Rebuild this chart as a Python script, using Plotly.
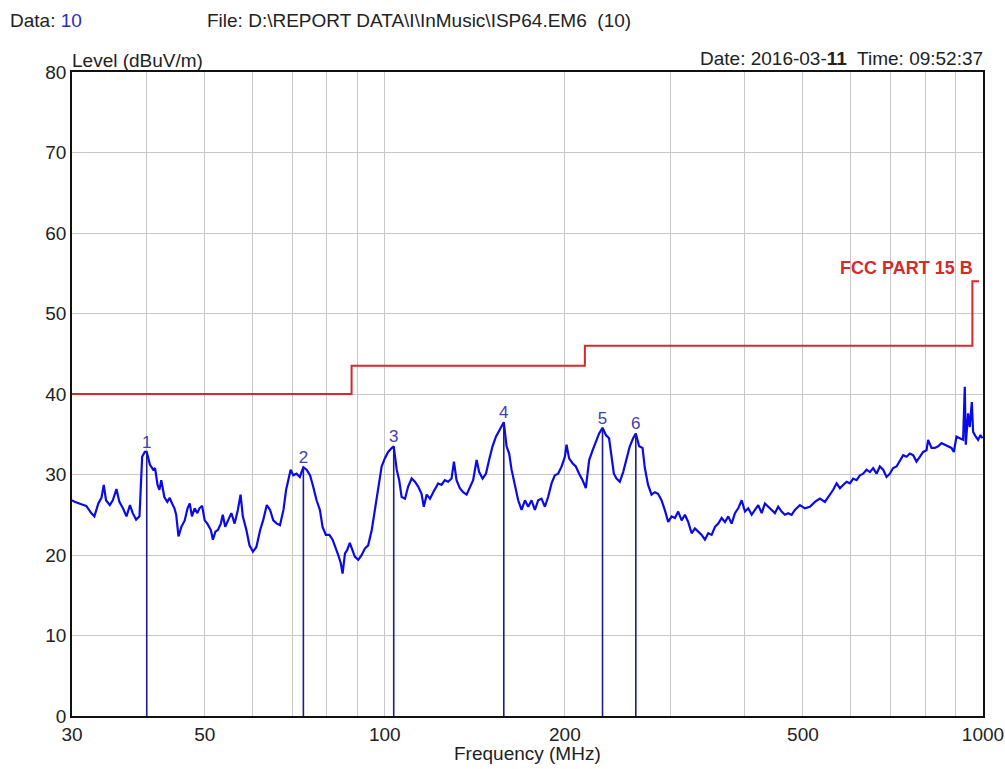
import plotly.graph_objects as go

# ---------------- data ----------------
TRACE_FREQ = [
    30.0, 30.3, 31.1, 31.7, 32.3, 32.7, 33.2, 33.6, 33.9, 34.2, 34.7, 35.1, 35.6, 36.0, 36.5, 37.0,
    37.5, 37.9, 38.4, 38.9, 39.3, 39.7, 40.0, 40.5, 41.0, 41.3, 41.7, 42.0, 42.3, 42.8, 43.3, 43.7,
    44.1, 44.5, 44.8, 45.2, 45.7, 46.3, 46.8, 47.2, 47.6, 48.1, 48.6, 49.0, 49.5, 50.0, 50.5, 51.2,
    51.6, 52.1, 52.6, 53.2, 53.6, 54.1, 54.7, 55.4, 56.1, 56.8, 57.4, 57.9, 58.7, 59.4, 60.2, 61.0,
    61.9, 62.6, 63.5, 64.3, 65.1, 66.0, 66.8, 67.7, 68.4, 69.0, 69.6, 70.3, 71.2, 72.1, 73.1, 74.0,
    75.0, 75.9, 76.9, 77.9, 78.7, 79.7, 80.8, 81.8, 82.9, 83.6, 84.4, 85.0, 85.8, 86.5, 87.4, 88.4,
    89.1, 90.3, 91.5, 92.6, 93.8, 95.1, 96.3, 97.5, 98.8, 100.0, 101.3, 102.7, 103.5, 104.7, 105.7,
    106.7, 108.1, 109.4, 110.9, 112.3, 113.7, 115.2, 116.2, 117.5, 119.0, 120.5,
    122.8, 124.4, 126.0, 127.6, 129.3, 130.5, 131.8, 133.5, 135.2, 137.0, 138.8, 140.5, 142.4, 143.8,
    145.7, 147.6, 149.4, 151.4, 153.4, 155.3, 156.8, 158.1, 159.8, 161.4, 162.9, 165.0, 167.1, 169.3,
    171.5, 173.7, 175.9, 178.2, 180.5, 182.8, 185.2, 187.5, 190.0, 192.4, 194.9, 197.5, 200.0, 201.3,
    203.3, 206.0, 208.6, 211.3, 214.1, 216.8, 219.6, 222.5, 225.3, 228.2, 231.2, 234.2, 237.1, 239.3,
    241.5, 244.0,
    247.1, 250.3, 253.6, 256.8, 260.1, 262.8, 266.2, 269.7, 272.1, 275.5, 279.2, 282.7, 286.3, 290.1,
    293.8, 297.7, 301.6, 305.5, 309.4, 313.5, 317.5, 321.5, 325.8, 329.9, 334.2, 338.6, 342.9, 347.3,
    351.9, 356.4, 360.9, 365.7, 370.4, 375.1, 380.0, 384.9, 389.8, 395.0, 400.0, 405.1, 410.5, 415.7,
    421.0, 426.6, 432.0, 437.6, 443.3, 448.9, 454.6, 460.6, 466.5, 472.4, 478.7, 484.8, 491.0,
    494.2, 503.8, 513.6, 523.6, 533.8, 544.1, 554.7, 561.8, 569.2, 576.5, 583.8, 591.5, 599.1, 606.7,
    614.7, 622.6, 630.5, 638.8, 647.0, 655.2, 663.8, 672.3, 680.9, 689.9, 698.7, 707.6, 716.9, 726.1,
    735.4, 745.0, 754.6, 764.2, 774.2, 784.1, 794.2, 804.6, 809.6, 820.2, 830.7, 841.3, 852.4, 863.3,
    874.3, 885.8, 893.7, 903.0, 914.6, 926.3, 932.3, 935.9, 944.2, 950.4, 957.8, 962.6, 972.7, 981.3,
    990.4, 998.1,
]
TRACE_LEVEL = [
    26.8, 26.6, 26.3, 26.1, 25.2, 24.8, 26.4, 27.1, 28.7, 26.8, 26.2, 26.8, 28.2, 26.6, 25.8, 24.8,
    26.2, 25.2, 24.4, 24.8, 32.2, 32.8, 32.8, 31.2, 30.6, 30.8, 28.7, 28.1, 29.3, 27.2, 26.6, 27.1,
    26.4, 25.8, 25.0, 22.3, 23.5, 24.3, 25.8, 26.4, 24.8, 25.8, 25.2, 25.8, 26.1, 24.3, 23.9, 23.1,
    21.9, 22.9, 23.1, 23.9, 25.0, 23.5, 24.3, 25.2, 23.9, 25.6, 27.5, 24.8, 23.1, 21.2, 20.4, 21.0,
    23.1, 24.3, 26.2, 25.6, 24.3, 23.9, 23.7, 25.6, 28.1, 29.3, 30.6, 29.9, 30.1, 29.7, 30.9, 30.6,
    29.9, 28.5, 26.8, 25.6, 23.5, 22.5, 22.5, 21.9, 20.8, 20.0, 19.0, 17.7, 20.2, 20.6, 21.5, 20.4,
    19.8, 19.4, 20.0, 20.8, 21.2, 23.1, 25.6, 28.5, 31.0, 32.0, 32.8, 33.3, 33.5, 30.6, 29.3,
    27.2, 27.0, 28.5, 29.5, 29.1, 28.5, 27.6, 26.0, 27.5, 27.0, 27.8,
    28.9, 28.7, 29.3, 29.1, 29.5, 31.6, 29.3, 28.3, 27.8, 27.5, 28.5, 29.3, 31.8, 30.3,
    29.5, 30.1, 31.8, 33.5, 34.7, 35.5, 36.1, 36.5, 33.5, 32.6, 30.6, 28.5, 26.8, 25.6,
    26.8, 26.0, 26.8, 25.6, 26.8, 27.0, 26.0, 27.2, 28.9, 29.9, 30.1, 31.0, 32.2, 33.7,
    32.0, 31.4, 31.0, 30.1, 29.3, 28.3, 31.8, 33.0, 34.1, 35.1, 35.8, 34.9, 34.5, 32.2,
    30.1, 29.5,
    29.1, 30.3, 32.0, 33.5, 34.5, 35.1, 33.5, 33.3, 30.8, 28.7, 27.5, 27.8, 27.6, 26.8,
    25.6, 24.1, 24.8, 24.6, 25.4, 24.3, 25.0, 24.1, 22.7, 23.3, 22.9, 22.5, 21.9, 22.7,
    22.5, 23.5, 23.9, 24.6, 24.1, 24.8, 23.9, 25.2, 25.8, 26.8, 25.4, 25.8, 25.0, 25.6,
    26.2, 25.2, 26.4, 26.0, 25.6, 25.2, 26.0, 25.4, 25.0, 25.2, 25.0, 25.6, 26.0,
    26.2, 25.8, 26.0, 26.6, 27.0, 26.6, 27.5, 28.1, 28.9, 28.3, 28.7, 29.1, 28.9, 29.5,
    29.3, 29.9, 30.1, 30.6, 30.3, 30.8, 30.1, 31.0, 30.6, 29.7, 30.1, 30.8, 31.0, 31.8,
    32.4, 32.2, 32.6, 32.4, 31.6, 32.2, 32.8, 33.0, 34.3, 33.3, 33.3, 33.5, 33.9, 33.7,
    33.5, 33.3, 32.8, 34.7, 34.5, 34.3, 40.9, 33.7, 37.6, 35.9, 39.0, 35.3, 34.7, 34.3,
    34.9, 34.5,
]

MARKER_FREQ = [40.0, 73.1, 103.5, 158.1, 231.2, 262.8]
MARKER_LEVEL = [32.8, 30.9, 33.5, 36.5, 35.8, 35.1]
MARKER_LABEL = ["1", "2", "3", "4", "5", "6"]

LIMIT_FREQ = [30, 88, 216, 960, 985]
LIMIT_LEVEL = [40, 43.5, 46, 54, 54]
LIMIT_NAME = "FCC PART 15 B"

X_GRID = [30, 40, 50, 60, 70, 80, 90, 100, 200, 300, 400, 500, 600, 700, 800, 900, 1000]
X_LABELS = ["30", "", "50", "", "", "", "", "100", "200", "", "", "500", "", "", "", "", "1000"]
Y_TICKS = [0, 10, 20, 30, 40, 50, 60, 70, 80]

FONT = "Liberation Sans, Arial, sans-serif"
TXT = "#222222"

# ---------------- figure ----------------
fig = go.Figure()

fig.add_trace(go.Scatter(
    x=LIMIT_FREQ, y=LIMIT_LEVEL, mode="lines", line_shape="hv",
    line=dict(color="#d42a2a", width=2), hoverinfo="skip"))

fig.add_trace(go.Scatter(
    x=TRACE_FREQ, y=TRACE_LEVEL, mode="lines",
    line=dict(color="#0a0ae6", width=2.2)))

mx, my = [], []
for f, v in zip(MARKER_FREQ, MARKER_LEVEL):
    mx += [f, f, None]
    my += [0, v, None]
fig.add_trace(go.Scatter(x=mx, y=my, mode="lines",
                         line=dict(color="#1c1c8a", width=1.6)))

fig.add_trace(go.Scatter(
    x=MARKER_FREQ, y=MARKER_LEVEL, mode="text", text=MARKER_LABEL,
    textposition="top center",
    textfont=dict(family=FONT, size=17, color="#4040b0")))

fig.update_layout(
    width=1005, height=769,
    margin=dict(l=72, r=22, t=72, b=53, autoexpand=False),
    paper_bgcolor="white", plot_bgcolor="white",
    showlegend=False,
    font=dict(family=FONT, size=19, color=TXT),
    xaxis=dict(type="log", range=[1.4771213, 3.0],
               tickmode="array", tickvals=X_GRID, ticktext=X_LABELS,
               showgrid=True, gridcolor="#c8c8c8", gridwidth=1,
               showline=True, mirror=True, linecolor="#111", linewidth=1.5,
               ticks="", zeroline=False,
               tickfont=dict(family=FONT, size=19, color=TXT)),
    yaxis=dict(range=[0, 80], tickmode="array", tickvals=Y_TICKS,
               showgrid=True, gridcolor="#c8c8c8", gridwidth=1,
               showline=True, mirror=True, linecolor="#111", linewidth=1.5,
               ticks="", zeroline=False,
               tickfont=dict(family=FONT, size=19, color=TXT)),
)

ann = [
    dict(text="Data: <span style='color:#2b2bc0'>10</span>", x=-0.0703, y=1.0807,
         xanchor="left", yanchor="middle"),
    dict(text="File: D:\\REPORT DATA\\I\\InMusic\\ISP64.EM6  (10)", x=0.146, y=1.0807,
         xanchor="left", yanchor="middle"),
    dict(text="Level (dBuV/m)", x=-0.002, y=1.0186, xanchor="left", yanchor="middle"),
    dict(text="Date: 2016-03-<b>11</b>  Time: 09:52:37", x=1.0022, y=1.0217,
         xanchor="right", yanchor="middle"),
    dict(text="Frequency (MHz)", x=0.5, y=-0.0590, xanchor="center", yanchor="middle"),
]
for a in ann:
    fig.add_annotation(xref="paper", yref="paper", showarrow=False,
                       font=dict(family=FONT, size=19, color=TXT), **a)

fig.add_annotation(xref="paper", yref="y", x=0.9912, y=55.65, xanchor="right",
                   yanchor="middle", showarrow=False, text="<b>" + LIMIT_NAME + "</b>",
                   font=dict(family=FONT, size=18, color="#d42a2a"))

fig.write_html("out.html", config={"displayModeBar": False})

# remove the browser's default page margin so the figure sits at the window origin
with open("out.html", "r", encoding="utf-8") as fh:
    html = fh.read()
html = html.replace("<head>", "<head><style>html,body{margin:0;padding:0;overflow:hidden;}</style>", 1)
with open("out.html", "w", encoding="utf-8") as fh:
    fh.write(html)
